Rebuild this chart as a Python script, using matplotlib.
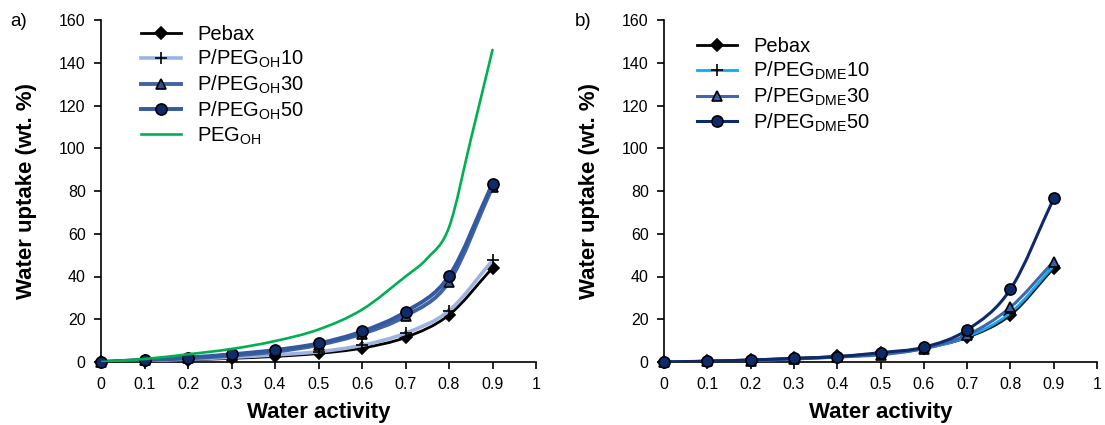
import numpy as np
import matplotlib
matplotlib.use("Agg")
import matplotlib.pyplot as plt
from matplotlib.path import Path
from matplotlib.patches import PathPatch
from matplotlib.lines import Line2D

plt.rcParams['font.family'] = ['Liberation Sans', 'DejaVu Sans']
plt.rcParams['mathtext.fontset'] = 'custom'
plt.rcParams['mathtext.rm'] = 'Liberation Sans'

# water activity
aw = [0, 0.1, 0.2, 0.3, 0.4, 0.5, 0.6, 0.7, 0.8, 0.9]

# panel a) water uptake (wt. %)
pebax = [0, 0.4, 1.0, 1.7, 2.6, 4.0, 6.5, 11.5, 22, 44]
peg_oh10 = [0, 0.6, 1.3, 2.2, 3.3, 4.8, 7.8, 13.5, 24, 47.5]
peg_oh30 = [0, 0.9, 1.7, 3.0, 4.8, 8.0, 13.2, 21.5, 37.5, 82]
peg_oh50 = [0, 1.0, 2.1, 3.6, 5.6, 8.7, 14.3, 23.5, 40.2, 83.5]
aw_peg = [0, 0.1, 0.2, 0.3, 0.4, 0.5, 0.6, 0.7, 0.75, 0.8, 0.85, 0.9]
peg_oh = [0, 1.4, 3.6, 6.1, 9.8, 15.2, 24.5, 40, 48.5, 63, 104, 146]

# panel b)
peg_dme10 = [0, 0.3, 0.7, 1.4, 2.3, 3.6, 6.2, 11.8, 23, 45]
peg_dme30 = [0, 0.3, 0.7, 1.4, 2.3, 3.4, 6.3, 12.6, 25.6, 47]
peg_dme50 = [0, 0.4, 0.9, 1.7, 2.5, 4.4, 6.9, 15, 34, 76.5]


def smooth_path(x, y):
    # smoothed line like excel: cubic hermite pieces as bezier curves
    x = np.asarray(x, float)
    y = np.asarray(y, float)
    n = len(x)
    m = np.empty(n)
    m[1:-1] = (y[2:] - y[:-2]) / (x[2:] - x[:-2])
    m[0] = (y[1] - y[0]) / (x[1] - x[0])
    m[-1] = (y[-1] - y[-2]) / (x[-1] - x[-2])
    verts = [(x[0], y[0])]
    codes = [Path.MOVETO]
    for i in range(n - 1):
        d = (x[i + 1] - x[i]) / 3
        verts += [(x[i] + d, y[i] + m[i] * d),
                  (x[i + 1] - d, y[i + 1] - m[i + 1] * d),
                  (x[i + 1], y[i + 1])]
        codes += [Path.CURVE4] * 3
    return Path(verts, codes)


def series(ax, x, y, color, lw, marker=None, mfc=None, ms=8, z=2):
    ax.add_patch(PathPatch(smooth_path(x, y), fill=False, edgecolor=color,
                           lw=lw, zorder=z, capstyle='round'))
    if marker:
        ax.plot(x, y, ls='none', marker=marker, mfc=mfc, mec='black',
                mew=1.2, ms=ms, zorder=z + 0.5, clip_on=False)
    return Line2D([], [], color=color, lw=lw, marker=marker, mfc=mfc,
                  mec='black', mew=1.2, ms=ms)


def style_axes(ax):
    ax.set_xlim(0, 1)
    ax.set_ylim(0, 160)
    ax.set_xticks(np.arange(0, 1.01, 0.1))
    ax.set_xticklabels(['0'] + ['%.1f' % v for v in np.arange(0.1, 0.95, 0.1)] + ['1'])
    ax.set_yticks(range(0, 161, 20))
    ax.spines['top'].set_visible(False)
    ax.spines['right'].set_visible(False)
    for s in ['left', 'bottom']:
        ax.spines[s].set_linewidth(1.2)
    ax.tick_params(direction='out', length=5, width=1.2, labelsize=11.5, pad=6)
    ax.set_xlabel('Water activity', fontsize=16, fontweight='bold', labelpad=7)
    ax.set_ylabel('Water uptake (wt. %)', fontsize=16, fontweight='bold')
    ax.yaxis.set_label_coords(-0.147, 0.5)


fig = plt.figure(figsize=(11.05, 4.25), dpi=100)
ax1 = fig.add_axes([101 / 1105, 63 / 425, 435 / 1105, 342 / 425])
ax2 = fig.add_axes([664 / 1105, 63 / 425, 433 / 1105, 342 / 425])

# a)
h = []
h.append(series(ax1, aw, pebax, 'black', 2.0, 'D', 'black', 6, 2))
h.append(series(ax1, aw, peg_oh10, '#9cb4de', 2.6, '+', 'black', 8.5, 3))
h.append(series(ax1, aw, peg_oh30, '#4163a6', 2.8, '^', '#2f4f92', 7.5, 4))
h.append(series(ax1, aw, peg_oh50, '#33599e', 2.8, 'o', '#0e2b6c', 8, 5))
h.append(series(ax1, aw_peg, peg_oh, '#00b050', 1.9, None, None, 8, 6))
style_axes(ax1)
ax1.legend(h, ['Pebax', r'P/PEG$_{\mathrm{OH}}$10', r'P/PEG$_{\mathrm{OH}}$30',
               r'P/PEG$_{\mathrm{OH}}$50', r'PEG$_{\mathrm{OH}}$'],
           loc='upper left', bbox_to_anchor=(141 / 1105, 1 - 25 / 425),
           bbox_transform=fig.transFigure, frameon=False, fontsize=14.5,
           handlelength=2.0, handletextpad=0.8, labelspacing=0.18,
           borderpad=0, borderaxespad=0)

# b)
h = []
h.append(series(ax2, aw, pebax, 'black', 2.0, 'D', 'black', 6, 2))
h.append(series(ax2, aw, peg_dme10, '#00b0f0', 2.0, '+', 'black', 8.5, 3))
h.append(series(ax2, aw, peg_dme30, '#3f66ae', 2.2, '^', '#3a5fa6', 7.5, 4))
h.append(series(ax2, aw, peg_dme50, '#0d2a6b', 2.2, 'o', '#0d2a6b', 8, 5))
style_axes(ax2)
ax2.legend(h, ['Pebax', r'P/PEG$_{\mathrm{DME}}$10', r'P/PEG$_{\mathrm{DME}}$30',
               r'P/PEG$_{\mathrm{DME}}$50'],
           loc='upper left', bbox_to_anchor=(697 / 1105, 1 - 37 / 425),
           bbox_transform=fig.transFigure, frameon=False, fontsize=14.5,
           handlelength=2.0, handletextpad=0.8, labelspacing=0.18,
           borderpad=0, borderaxespad=0)

fig.text(10 / 1105, 1 - 22 / 425, 'a)', fontsize=13.5, va='center')
fig.text(575 / 1105, 1 - 22 / 425, 'b)', fontsize=13.5, va='center')

fig.savefig('out.png', dpi=100)
